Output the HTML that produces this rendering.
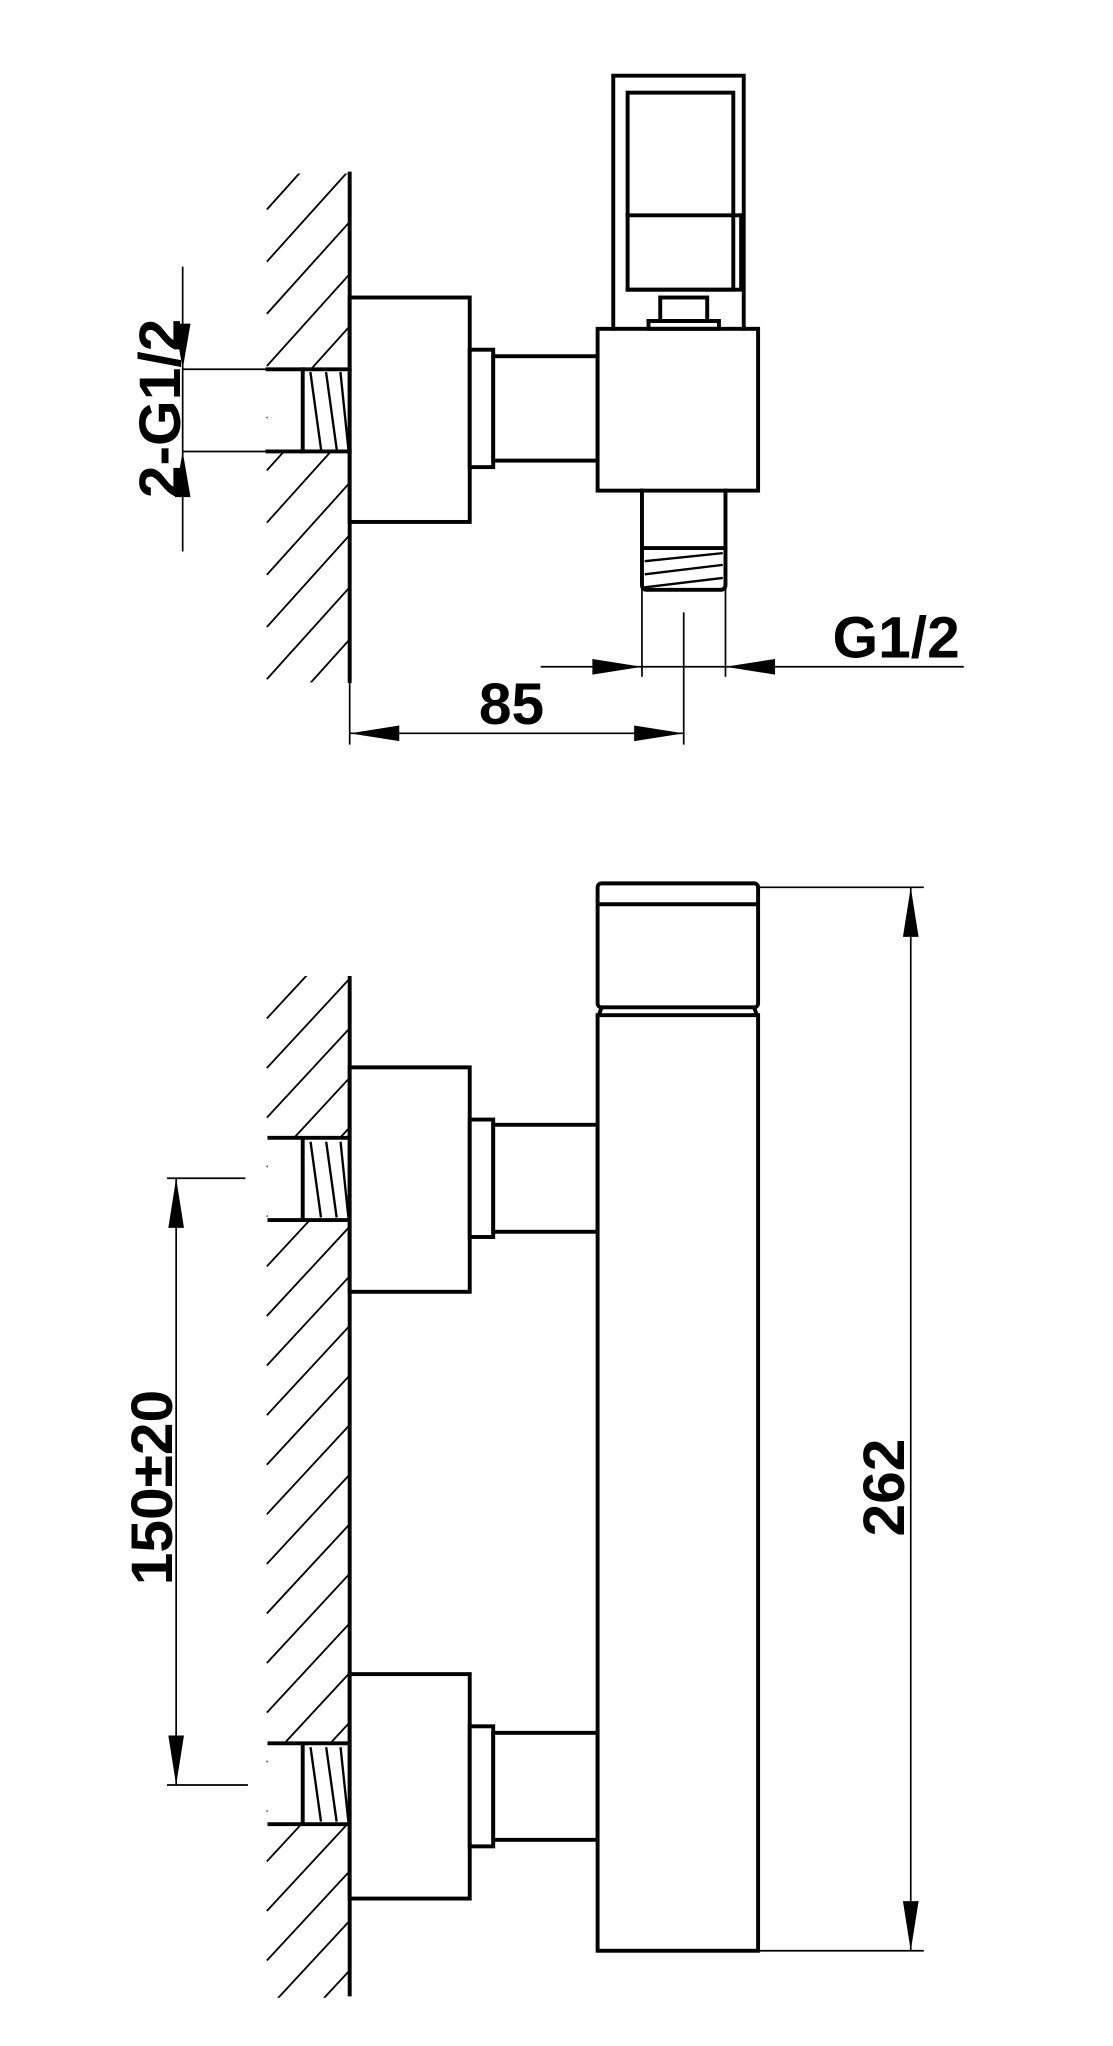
<!DOCTYPE html>
<html><head><meta charset="utf-8"><style>
html,body{margin:0;padding:0;background:#fff;}
svg{display:block;}
text{font-family:"Liberation Sans",Arial,sans-serif;font-weight:bold;fill:#000;}
</style></head><body>
<svg width="1113" height="2046" viewBox="0 0 853 1568" preserveAspectRatio="none" xmlns="http://www.w3.org/2000/svg">
<defs>
<clipPath id="h1"><rect x="200" y="133" width="68" height="390"/></clipPath>
<clipPath id="h2"><rect x="200" y="748" width="68" height="783"/></clipPath>
</defs>
<g stroke="#000" fill="none" stroke-linecap="square">
<g clip-path="url(#h1)" stroke-width="1.4">
<path d="M205 160 L268 90 M205 200 L268 130 M205 240 L268 170 M205 280 L268 210 M205 320 L268 250 M205 360 L268 290 M205 400 L268 330 M205 440 L268 370 M205 480 L268 410 M205 520 L268 450 M205 560 L268 490 M205 600 L268 530"/>
</g>
<g clip-path="url(#h2)" stroke-width="1.4">
<path d="M205 780 L268 712 M205 818 L268 750 M205 856 L268 788 M205 894 L268 826 M205 932 L268 864 M205 970 L268 902 M205 1008 L268 940 M205 1046 L268 978 M205 1084 L268 1016 M205 1122 L268 1054 M205 1160 L268 1092 M205 1198 L268 1130 M205 1236 L268 1168 M205 1274 L268 1206 M205 1312 L268 1244 M205 1350 L268 1282 M205 1388 L268 1320 M205 1426 L268 1358 M205 1464 L268 1396 M205 1502 L268 1434 M205 1540 L268 1472 M205 1578 L268 1510 M205 1616 L268 1548"/>
</g>
<!-- TOP VIEW -->
<g stroke-width="3">
<rect x="205" y="283" width="63" height="63" fill="#fff" stroke="none"/>
<line x1="268" y1="133" x2="268" y2="522"/>
<rect x="268" y="228" width="92" height="172" fill="#fff"/>
<rect x="360" y="268" width="18" height="90" fill="#fff"/>
<rect x="378" y="273" width="80" height="80" fill="#fff"/>
<rect x="458" y="252" width="123" height="124" fill="#fff"/>
<path d="M470 252 V58 H570 V252"/>
<rect x="481" y="71" width="81" height="151"/>
<line x1="481" y1="165" x2="568" y2="165"/>
<path d="M568 165 V222 H481"/>
<rect x="506" y="228" width="36" height="18"/>
<rect x="497" y="246" width="54" height="6"/>
<path d="M492 376 V448 Q492 452 496 452 H552 Q556 452 556 448 V376"/>
<line x1="492" y1="420" x2="556" y2="420"/>
<path d="M205 283 H268 M205 346 H268"/>
<line x1="232" y1="283" x2="232" y2="346"/>
</g>
<g stroke-width="1.8">
<path d="M238 286 L246 344 M250 286 L258 344 M261 286 L267 344"/>
<path d="M495 430 L553 424 M495 440 L553 433 M495 450 L553 443"/>
</g>
<g stroke-width="1.3">
<path d="M140 205 V422 M140 283 H205 M140 346 H205"/>
<path d="M492 452 V518 M556 452 V518"/>
<path d="M415 511 H738"/>
<path d="M268 522 V570 M524 470 V570 M268 562 H524"/>
</g>
</g>
<g fill="#000">
<polygon points="140,283 134,248 146,248"/>
<polygon points="140,346 134,381 146,381"/>
<polygon points="492,511 454,505 454,517"/>
<polygon points="556,511 594,505 594,517"/>
<polygon points="268,562 306,556 306,568"/>
<polygon points="524,562 486,556 486,568"/>
</g>
<text x="638" y="504" font-size="45">G1/2</text>
<text x="392" y="555" font-size="45" text-anchor="middle">85</text>
<text transform="translate(138,313) rotate(-90)" font-size="45" text-anchor="middle">2-G1/2</text>

<!-- BOTTOM VIEW -->
<g stroke="#000" fill="none" stroke-width="3">
<rect x="205" y="872" width="63" height="63" fill="#fff" stroke="none"/>
<rect x="205" y="1336" width="63" height="62" fill="#fff" stroke="none"/>
<line x1="268" y1="748" x2="268" y2="1530"/>
<rect x="268" y="818" width="92" height="172" fill="#fff"/>
<rect x="360" y="858" width="18" height="90" fill="#fff"/>
<rect x="378" y="862" width="80" height="82" fill="#fff"/>
<path d="M205 872 H268 M205 935 H268"/>
<line x1="232" y1="872" x2="232" y2="935"/>
<rect x="268" y="1283" width="92" height="172" fill="#fff"/>
<rect x="360" y="1323" width="18" height="92" fill="#fff"/>
<rect x="378" y="1328" width="80" height="82" fill="#fff"/>
<path d="M205 1336 H268 M205 1398 H268"/>
<line x1="232" y1="1336" x2="232" y2="1398"/>
<rect x="458" y="778" width="123" height="717" fill="#fff"/>
<rect x="458" y="677" width="123" height="95" rx="3" fill="#fff"/>
<line x1="458" y1="693" x2="581" y2="693"/>
<path d="M461 772 L459 778 M578 772 L580 778"/>
</g>
<g stroke="#000" stroke-width="1.8" fill="none">
<path d="M238 875 L246 933 M250 875 L258 933 M261 875 L267 933"/>
<path d="M238 1339 L246 1396 M250 1339 L258 1396 M261 1339 L267 1396"/>
</g>
<g stroke="#000" stroke-width="1.3" fill="none">
<path d="M581 680 H708 M581 1495 H708 M698 680 V1495"/>
<path d="M128 903 H188 M128 1368 H190 M135 903 V1368"/>
</g>
<g fill="#000">
<polygon points="698,680 692,718 704,718"/>
<polygon points="698,1495 692,1457 704,1457"/>
<polygon points="135,903 129,941 141,941"/>
<polygon points="135,1368 129,1330 141,1330"/>
</g>
<text transform="translate(693,1140) rotate(-90)" font-size="45" text-anchor="middle">262</text>
<text transform="translate(132,1140) rotate(-90)" font-size="45" text-anchor="middle">150±20</text>
</svg>
</body></html>
